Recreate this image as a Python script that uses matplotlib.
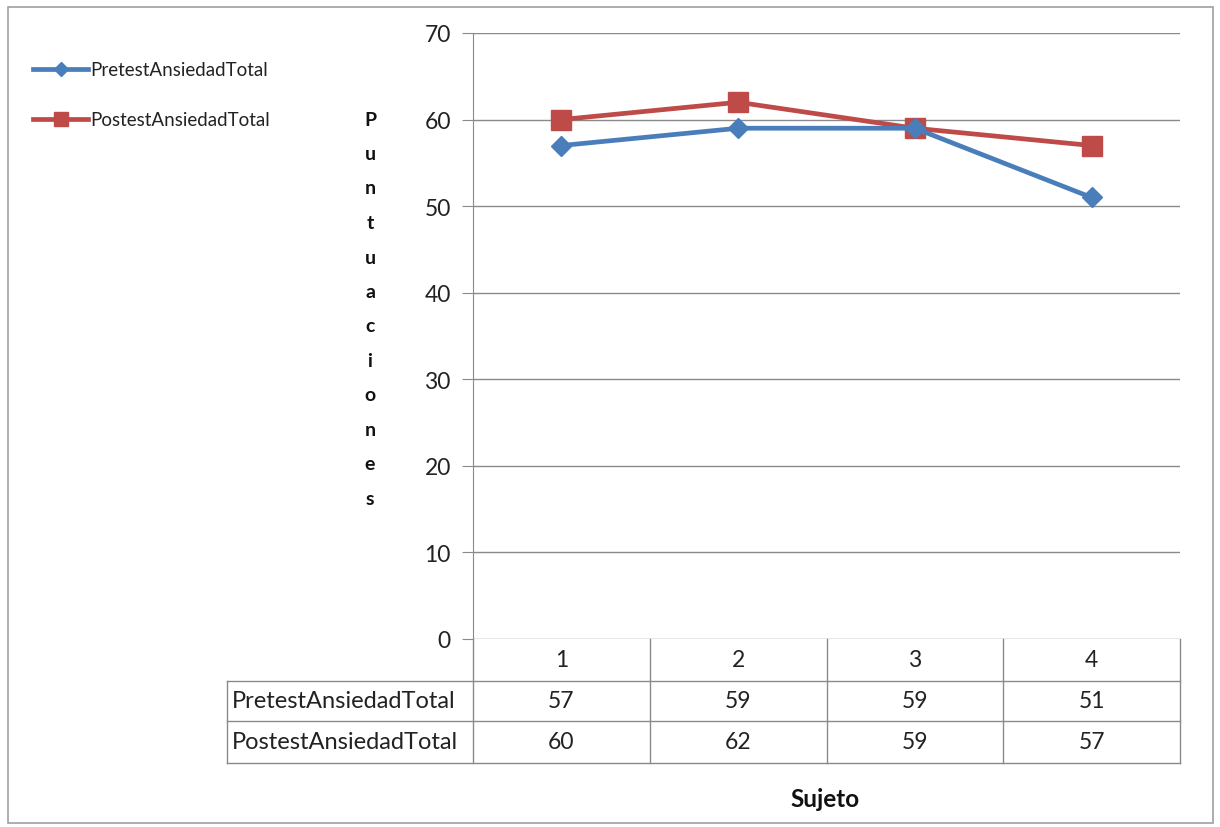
import matplotlib
matplotlib.use("Agg")
import matplotlib.pyplot as plt
from matplotlib.lines import Line2D
from matplotlib.patches import Rectangle
import matplotlib.transforms as mtrans

plt.rcParams['font.family'] = ['Lato', 'DejaVu Sans']

categories = ['1', '2', '3', '4']
pretest = [57, 59, 59, 51]
postest = [60, 62, 59, 57]
series_names = ['PretestAnsiedadTotal', 'PostestAnsiedadTotal']
yticks = [0, 10, 20, 30, 40, 50, 60, 70]
ylabel = 'Puntuaciones'
xlabel = 'Sujeto'

W, H = 1220, 828
fig = plt.figure(figsize=(W / 100, H / 100), dpi=100)

def fx(px):
    return px / W

def fy(py):
    return 1 - py / H

# outer frame
fig.add_artist(Rectangle((fx(8), fy(824)), fx(1213) - fx(8), fy(8) - fy(824),
                         transform=fig.transFigure, fill=False, ec='#a0a0a0', lw=1.2))

ax_l, ax_r, ax_t, ax_b = 473, 1180, 34, 640
ax = fig.add_axes([fx(ax_l), fy(ax_b), fx(ax_r) - fx(ax_l), fy(ax_t) - fy(ax_b)])
x = list(range(len(categories)))
blue = '#4a7ebb'
red = '#be4b48'
ax.plot(x, pretest, color=blue, lw=3.4, marker='D', ms=10, mec=blue, mfc=blue, zorder=3)
ax.plot(x, postest, color=red, lw=3.4, marker='s', ms=14, mec=red, mfc=red, zorder=2)
ax.set_xlim(-0.5, len(categories) - 0.5)
ax.set_ylim(0, 70)
ax.set_yticks(yticks)
ax.set_yticklabels([str(v) for v in yticks], fontsize=16.5, color='#222222')
ax.set_xticks([])
ax.yaxis.grid(True, color='#8a8a8a', lw=1)
ax.set_axisbelow(True)
for s in ['top', 'right', 'bottom']:
    ax.spines[s].set_visible(False)
ax.spines['left'].set_color('#8a8a8a')
ax.tick_params(axis='y', length=8, color='#8a8a8a', pad=8)

# vertical stacked y-label
ax_lbl_y0 = 120
for i, ch in enumerate(ylabel):
    fig.text(fx(370), fy(ax_lbl_y0 + i * 34.5), ch.lower() if i else ch.upper(), fontsize=14,
             fontweight='bold', ha='center', va='center', color='#111111')

# table
trans = mtrans.blended_transform_factory(ax.transData, fig.transFigure)
row_tops = [640, 682, 722, 764]
lc = '#8a8a8a'
label_left = 227
for i, yy in enumerate(row_tops):
    if i == 0:
        continue
    fig.add_artist(Line2D([fx(label_left), fx(ax_r)], [fy(yy), fy(yy)], transform=fig.transFigure, color=lc, lw=1))
for k in range(len(categories) + 1):
    fig.add_artist(Line2D([k - 0.5, k - 0.5], [fy(640), fy(764)], transform=trans, color=lc, lw=1))
fig.add_artist(Line2D([fx(label_left), fx(label_left)], [fy(682), fy(764)], transform=fig.transFigure, color=lc, lw=1))

rows = [pretest, postest]
for k, c in enumerate(categories):
    fig.text(k, fy((640 + 682) / 2), c, transform=trans, ha='center', va='center', fontsize=16.5, color='#222222')
    for r, vals in enumerate(rows):
        yc = (row_tops[r + 1] + row_tops[r + 2]) / 2
        fig.text(k, fy(yc), str(vals[k]), transform=trans, ha='center', va='center', fontsize=16.5, color='#222222')
for r, name in enumerate(series_names):
    yc = (row_tops[r + 1] + row_tops[r + 2]) / 2
    fig.text(fx(232), fy(yc), name, ha='left', va='center', fontsize=17, color='#222222')

# x label
fig.text(fx(825), fy(800), xlabel, ha='center', va='center', fontsize=17.5, fontweight='bold', color='#111111')

# legend
leg_items = [(series_names[0], blue, 'D', 7, 70), (series_names[1], red, 's', 10, 120)]
for name, col, mk, ms, yy in leg_items:
    fig.add_artist(Line2D([fx(33), fx(88)], [fy(yy), fy(yy)], transform=fig.transFigure, color=col, lw=3.4))
    fig.add_artist(Line2D([fx(60.5)], [fy(yy)], transform=fig.transFigure, color=col, marker=mk, ms=ms, mec=col, mfc=col))
    fig.text(fx(90), fy(yy), name, ha='left', va='center', fontsize=13.5, color='#222222')

fig.savefig('out.png', dpi=100)
